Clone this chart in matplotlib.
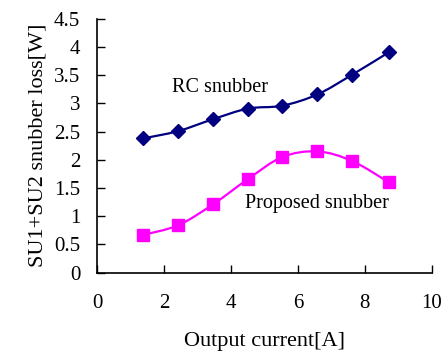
import numpy as np
import matplotlib
matplotlib.use('Agg')
import matplotlib.pyplot as plt
from matplotlib.path import Path
from matplotlib.patches import PathPatch

# Data
current = [1.37, 2.42, 3.46, 4.51, 5.53, 6.58, 7.62, 8.72]
rc_loss = [2.38, 2.51, 2.72, 2.91, 2.96, 3.16, 3.51, 3.91]
proposed_loss = [0.67, 0.84, 1.21, 1.66, 2.05, 2.15, 1.98, 1.60]

x_ticks = [0, 2, 4, 6, 8, 10]
y_ticks = [0, 0.5, 1, 1.5, 2, 2.5, 3, 3.5, 4, 4.5]
y_tick_labels = ['0', '0.5', '1', '1.5', '2', '2.5', '3', '3.5', '4', '4.5']

plt.rcParams['font.family'] = ['Liberation Serif', 'DejaVu Serif']


def smooth_path(xs, ys):
    # Excel-style smoothed line: Catmull-Rom segments drawn as cubic Beziers
    pts = np.column_stack([xs, ys])
    verts = [pts[0]]
    codes = [Path.MOVETO]
    n = len(pts)
    for i in range(n - 1):
        p0 = pts[i - 1] if i > 0 else pts[i]
        p1 = pts[i]
        p2 = pts[i + 1]
        p3 = pts[i + 2] if i + 2 < n else pts[i + 1]
        c1 = p1 + (p2 - p0) / 6
        c2 = p2 - (p3 - p1) / 6
        verts += [c1, c2, p2]
        codes += [Path.CURVE4] * 3
    return Path(verts, codes)


fig = plt.figure(figsize=(4.48, 3.56), dpi=100)
ax = fig.add_axes([0.2165, 0.234, 0.7475, 0.713])

ax.add_patch(PathPatch(smooth_path(current, rc_loss), facecolor='none',
                       edgecolor='#000080', lw=1.6))
ax.add_patch(PathPatch(smooth_path(current, proposed_loss), facecolor='none',
                       edgecolor='#FF00FF', lw=1.6))
ax.plot(current, rc_loss, linestyle='none', marker='D', color='#000080',
        markersize=7.5)
ax.plot(current, proposed_loss, linestyle='none', marker='s', color='#FF00FF',
        markersize=8.5)

ax.text(3.66, 3.29, 'RC snubber', fontsize=14.5, ha='center', va='center')
ax.text(6.58, 1.23, 'Proposed snubber', fontsize=14.5, ha='center', va='center')

ax.set_xlim(0, 10)
ax.set_ylim(0, 4.5)
ax.set_xticks(x_ticks)
ax.set_yticks(y_ticks)
ax.set_yticklabels(y_tick_labels)
ax.tick_params(direction='in', length=6, width=1, labelsize=15)
ax.tick_params(axis='y', pad=12)
ax.tick_params(axis='x', pad=15)

for side in ['top', 'right']:
    ax.spines[side].set_visible(False)
for side in ['left', 'bottom']:
    ax.spines[side].set_linewidth(1.2)

ax.set_xlabel('Output current[A]', fontsize=16, labelpad=14)
ax.set_ylabel('SU1+SU2 snubber loss[W]', fontsize=16, labelpad=5)

fig.savefig('out.png', dpi=100)
